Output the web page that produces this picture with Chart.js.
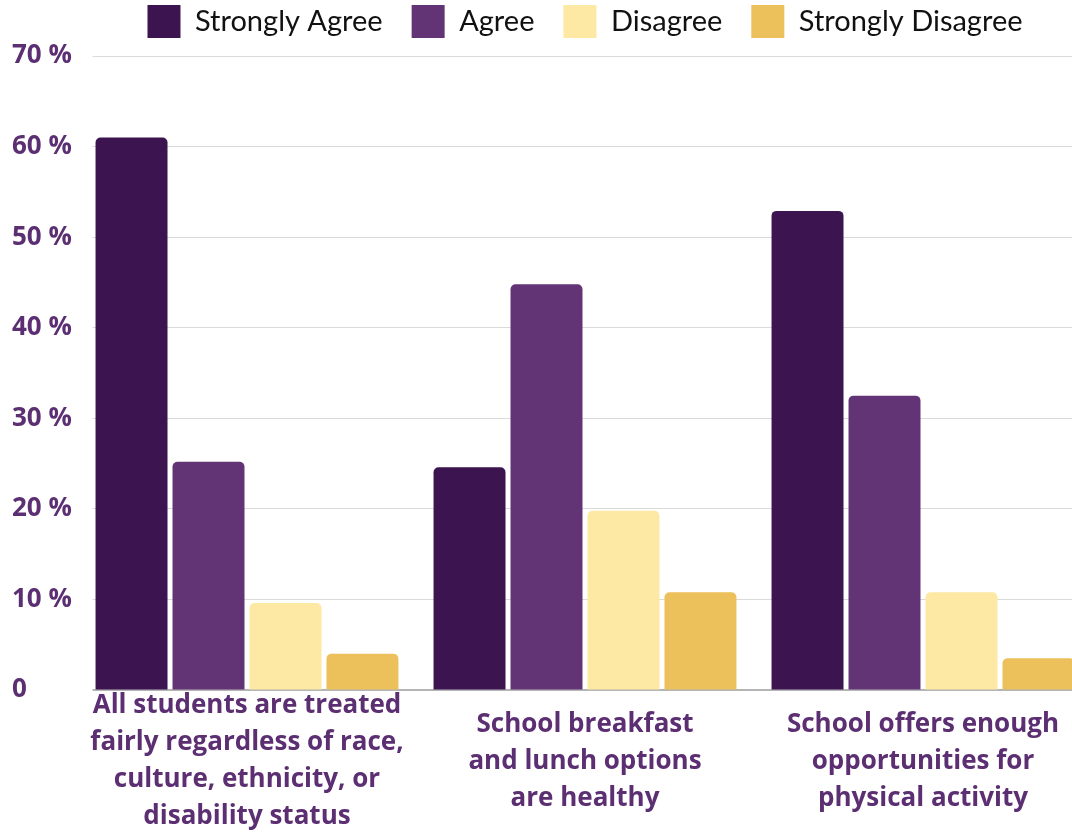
<!DOCTYPE html>
<html>
<head>
<meta charset="utf-8">
<script src="https://cdn.jsdelivr.net/npm/chart.js@4.4.1/dist/chart.umd.min.js"></script>
<style>
  html, body { margin: 0; padding: 0; background: #fff; }
  #wrap { position: relative; width: 1072px; height: 832px; overflow: hidden; }
  #chart { position: absolute; left: 0; top: -24px; }
</style>
</head>
<body>
<div id="wrap"><canvas id="chart" width="1092" height="894"></canvas></div>
<script>
// Survey answers, percent of respondents
const categories = [
  ['All students are treated', 'fairly regardless of race,', 'culture, ethnicity, or', 'disability status'],
  ['School breakfast', 'and lunch options', 'are healthy'],
  ['School offers enough', 'opportunities for', 'physical activity']
];
const responses = ['Strongly Agree', 'Agree', 'Disagree', 'Strongly Disagree'];
const stronglyAgree = [61, 24.6, 52.9];
const agree = [25.2, 44.8, 32.5];
const disagree = [9.6, 19.8, 10.8];
const stronglyDisagree = [4, 10.8, 3.5];
const yTicks = [0, 10, 20, 30, 40, 50, 60, 70];

const colors = ['#3c1450', '#633475', '#fde8a4', '#ecc05b'];
const purple = '#5c2e72';

const series = [stronglyAgree, agree, disagree, stronglyDisagree];

// grid lines start a bit right of the plot edge in the original
const trimGrid = {
  id: 'trimGrid',
  beforeDatasetsDraw(chart) {
    const { ctx, chartArea } = chart;
    ctx.save();
    ctx.fillStyle = '#fff';
    ctx.fillRect(chartArea.left - 2, chartArea.top - 3, 16.5, chartArea.bottom - chartArea.top + 6);
    ctx.restore();
  }
};

const legendSpace = {
  id: 'legendSpace',
  beforeInit(chart) {
    const fit = chart.legend.fit;
    chart.legend.fit = function () {
      fit.bind(chart.legend)();
      this.height += 8;
    };
  }
};

new Chart(document.getElementById('chart'), {
  type: 'bar',
  data: {
    labels: categories,
    datasets: responses.map((name, i) => ({
      label: name,
      data: series[i],
      backgroundColor: colors[i],
      borderRadius: { topLeft: 5, topRight: 5 },
      borderSkipped: 'bottom',
      categoryPercentage: 0.911,
      barPercentage: 0.935
    }))
  },
  options: {
    responsive: false,
    devicePixelRatio: 1,
    animation: false,
    layout: { padding: { left: 12, right: 0, top: 0, bottom: 0 } },
    plugins: {
      tooltip: { enabled: false },
      legend: {
        position: 'top',
        fullSize: false,
        labels: {
          boxWidth: 33,
          boxHeight: 33,
          padding: 29,
          color: '#111',
          font: { family: 'Lato', size: 29 }
        }
      }
    },
    scales: {
      x: {
        grid: { display: false, drawTicks: false },
        border: { display: true, color: '#b5b5b5', width: 2 },
        ticks: {
          color: purple,
          padding: 16,
          maxRotation: 0,
          autoSkip: false,
          crossAlign: 'center',
          font: { family: 'Open Sans', weight: 'bold', size: 26, lineHeight: '37px' }
        }
      },
      y: {
        min: 0,
        max: 70,
        afterFit(scale) { scale.width = 66; },
        afterBuildTicks(scale) { scale.ticks = yTicks.map(v => ({ value: v })); },
        grid: { color: '#dadada', lineWidth: 1, drawTicks: false },
        border: { display: false },
        ticks: {
          color: purple,
          crossAlign: 'far',
          padding: 6,
          font: { family: 'Open Sans', weight: 'bold', size: 26 },
          callback: v => v === 0 ? '0' : v + ' %'
        }
      }
    }
  },
  plugins: [trimGrid, legendSpace]
});
</script>
</body>
</html>
